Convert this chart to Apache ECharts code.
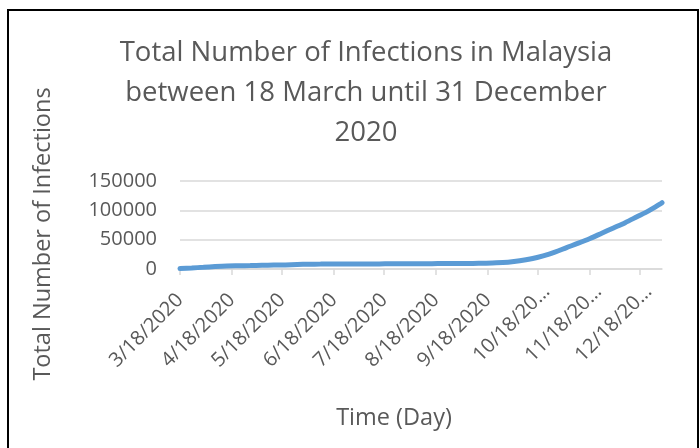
<!DOCTYPE html>
<html>
<head>
<meta charset="utf-8">
<script src="https://cdn.jsdelivr.net/npm/echarts@6/dist/echarts.min.js"></script>
<style>
html, body { margin: 0; background: #fff; }
#chart { width: 700px; height: 448px; }
</style>
</head>
<body>
<div id="chart"></div>
<script>
// weekly readings of the cumulative total
const sampleDates = [
    '3/18/2020', '3/25/2020', '4/1/2020', '4/8/2020', '4/15/2020', '4/22/2020', '4/29/2020',
    '5/6/2020', '5/13/2020', '5/20/2020', '5/27/2020', '6/3/2020', '6/10/2020', '6/17/2020',
    '6/24/2020', '7/1/2020', '7/8/2020', '7/15/2020', '7/22/2020', '7/29/2020', '8/5/2020',
    '8/12/2020', '8/19/2020', '8/26/2020', '9/2/2020', '9/9/2020', '9/16/2020', '9/23/2020',
    '9/30/2020', '10/7/2020', '10/14/2020', '10/21/2020', '10/28/2020', '11/4/2020', '11/11/2020',
    '11/18/2020', '11/25/2020', '12/2/2020', '12/9/2020', '12/16/2020', '12/23/2020', '12/30/2020',
    '12/31/2020'
];
const totalCases = [
    790, 1796, 2908, 4119, 5072, 5532, 5945,
    6383, 6742, 6978, 7604, 8143, 8338, 8505,
    8596, 8639, 8677, 8725, 8800, 8964, 9023,
    9094, 9200, 9300, 9360, 9583, 9946, 10505,
    11700, 14000, 17500, 22500, 28800, 36500, 44000,
    52000, 61000, 70000, 79000, 89000, 99000, 111000,
    113000
];
const yTicks = { min: 0, max: 150000, interval: 50000 };

// one category per day, 18 March .. 31 December
let days = [];
for (let t = Date.UTC(2020, 2, 18); t <= Date.UTC(2020, 11, 31); t += 86400000) {
    let d = new Date(t);
    days.push((d.getUTCMonth() + 1) + '/' + d.getUTCDate() + '/2020');
}

function isEighteenth(index, value) {
    return value.split('/')[1] === '18';
}

const grey = '#595959';
const font = '"Open Sans", "Noto Sans", sans-serif';

var chart = echarts.init(document.getElementById('chart'));
chart.setOption({
    animation: false,
    textStyle: { fontFamily: font },
    title: {
        text: 'Total Number of Infections in Malaysia\nbetween 18 March until 31 December\n2020',
        left: 361,
        top: 28,
        textAlign: 'center',
        textStyle: { fontSize: 27.5, fontWeight: 'normal', color: grey, lineHeight: 40, fontFamily: font }
    },
    grid: { left: 180, right: 38, top: 181, bottom: 179 },
    xAxis: {
        type: 'category',
        data: days,
        boundaryGap: false,
        axisLine: { lineStyle: { color: '#D9D9D9', width: 1.5 } },
        axisTick: { show: true, interval: isEighteenth, length: 6, lineStyle: { color: '#D9D9D9', width: 1.5 } },
        axisLabel: {
            interval: isEighteenth,
            rotate: 45,
            margin: 28,
            fontSize: 20,
            color: grey,
            formatter: function (v) {
                // long labels get cut like excel does
                return v.length > 9 ? '{cut|' + v.slice(0, 8) + '\u2026}' : v;
            },
            rich: {
                cut: { fontSize: 20, color: grey, fontFamily: font, padding: [0, -12, 0, 0] }
            }
        },
        splitLine: { show: false }
    },
    yAxis: {
        type: 'value',
        min: yTicks.min,
        max: yTicks.max,
        interval: yTicks.interval,
        axisLine: { show: false },
        axisTick: { show: false },
        axisLabel: { fontSize: 20, color: grey, margin: 23, formatter: function (v) { return String(v); } },
        splitLine: { lineStyle: { color: '#D9D9D9', width: 1.5 } }
    },
    series: [{
        type: 'line',
        data: sampleDates.map((d, i) => [d, totalCases[i]]),
        smooth: 0.3,
        showSymbol: false,
        lineStyle: { color: '#5B9BD5', width: 5, cap: 'round' }
    }],
    graphic: [
        {
            type: 'rect',
            shape: { x: 8, y: 10, width: 690, height: 460 },
            style: { fill: 'none', stroke: '#000', lineWidth: 2 }
        },
        {
            type: 'text',
            x: 394,
            y: 418,
            style: { text: 'Time (Day)', fontSize: 23.5, fill: grey, align: 'center', verticalAlign: 'middle', fontFamily: font }
        },
        {
            type: 'text',
            x: 43,
            y: 234,
            rotation: Math.PI / 2,
            style: { text: 'Total Number of Infections', fontSize: 23.5, fill: grey, align: 'center', verticalAlign: 'middle', fontFamily: font }
        }
    ]
});
</script>
</body>
</html>
